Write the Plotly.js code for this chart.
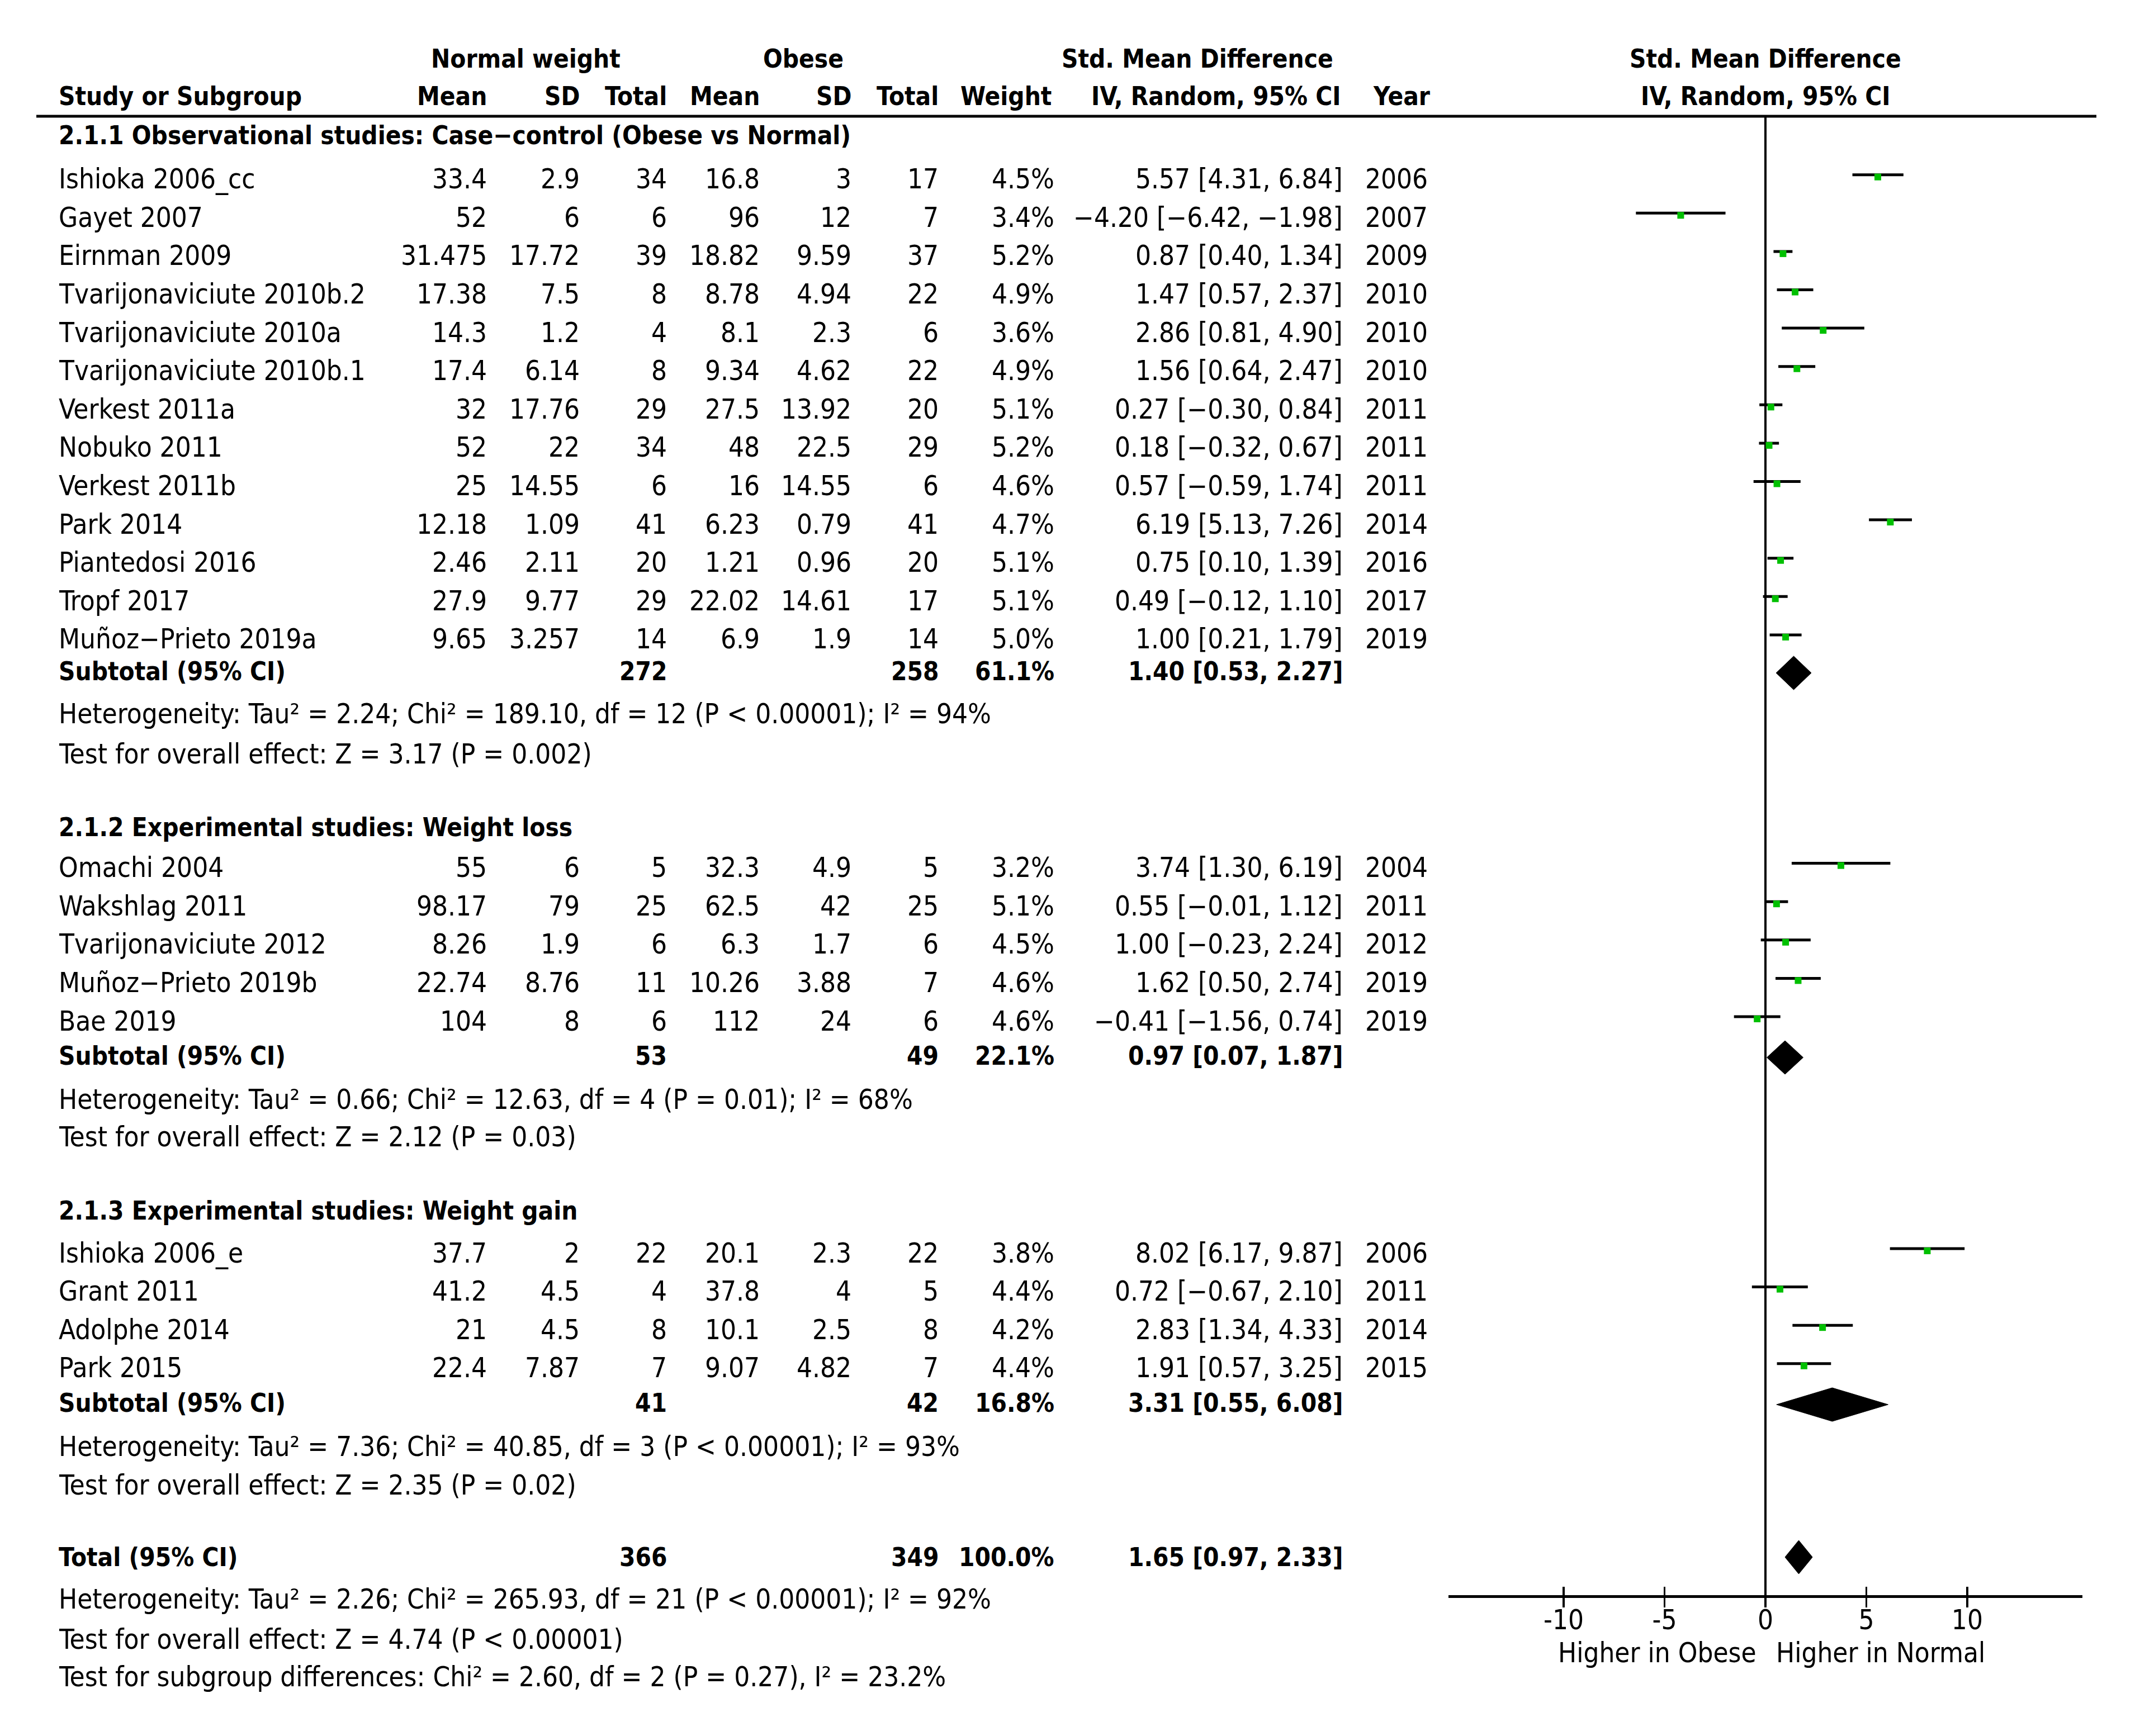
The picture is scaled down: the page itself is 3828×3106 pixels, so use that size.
<!DOCTYPE html>
<html><head><meta charset="utf-8">
<script src="https://cdn.plot.ly/plotly-3.0.1.min.js"></script>
<style>html,body{margin:0;padding:0;background:#fff}</style>
</head><body><div id="chart" style="width:3828px;height:3106px"></div>
<script>
// ---------------- DATA ----------------
const groupTitles = [
  "2.1.1 Observational studies: Case−control (Obese vs Normal)",
  "2.1.2 Experimental studies: Weight loss",
  "2.1.3 Experimental studies: Weight gain"
];
const studyGroup = [0,0,0,0,0,0,0,0,0,0,0,0,0, 1,1,1,1,1, 2,2,2,2];
const studyNames = ["Ishioka 2006_cc","Gayet 2007","Eirnman 2009","Tvarijonaviciute 2010b.2","Tvarijonaviciute 2010a","Tvarijonaviciute 2010b.1","Verkest 2011a","Nobuko 2011","Verkest 2011b","Park 2014","Piantedosi 2016","Tropf 2017","Muñoz−Prieto 2019a",
  "Omachi 2004","Wakshlag 2011","Tvarijonaviciute 2012","Muñoz−Prieto 2019b","Bae 2019",
  "Ishioka 2006_e","Grant 2011","Adolphe 2014","Park 2015"];
const normalMean = ["33.4","52","31.475","17.38","14.3","17.4","32","52","25","12.18","2.46","27.9","9.65","55","98.17","8.26","22.74","104","37.7","41.2","21","22.4"];
const normalSD = ["2.9","6","17.72","7.5","1.2","6.14","17.76","22","14.55","1.09","2.11","9.77","3.257","6","79","1.9","8.76","8","2","4.5","4.5","7.87"];
const normalTotal = [34,6,39,8,4,8,29,34,6,41,20,29,14,5,25,6,11,6,22,4,8,7];
const obeseMean = ["16.8","96","18.82","8.78","8.1","9.34","27.5","48","16","6.23","1.21","22.02","6.9","32.3","62.5","6.3","10.26","112","20.1","37.8","10.1","9.07"];
const obeseSD = ["3","12","9.59","4.94","2.3","4.62","13.92","22.5","14.55","0.79","0.96","14.61","1.9","4.9","42","1.7","3.88","24","2.3","4","2.5","4.82"];
const obeseTotal = [17,7,37,22,6,22,20,29,6,41,20,17,14,5,25,6,7,6,22,5,8,7];
const weights = ["4.5%","3.4%","5.2%","4.9%","3.6%","4.9%","5.1%","5.2%","4.6%","4.7%","5.1%","5.1%","5.0%","3.2%","5.1%","4.5%","4.6%","4.6%","3.8%","4.4%","4.2%","4.4%"];
const smd   = [5.57,-4.20,0.87,1.47,2.86,1.56,0.27,0.18,0.57,6.19,0.75,0.49,1.00, 3.74,0.55,1.00,1.62,-0.41, 8.02,0.72,2.83,1.91];
const ciLow = [4.31,-6.42,0.40,0.57,0.81,0.64,-0.30,-0.32,-0.59,5.13,0.10,-0.12,0.21, 1.30,-0.01,-0.23,0.50,-1.56, 6.17,-0.67,1.34,0.57];
const ciHigh= [6.84,-1.98,1.34,2.37,4.90,2.47,0.84,0.67,1.74,7.26,1.39,1.10,1.79, 6.19,1.12,2.24,2.74,0.74, 9.87,2.10,4.33,3.25];
const years = [2006,2007,2009,2010,2010,2010,2011,2011,2011,2014,2016,2017,2019, 2004,2011,2012,2019,2019, 2006,2011,2014,2015];

const subNormalTotal = [272,53,41];
const subObeseTotal = [258,49,42];
const subWeight = ["61.1%","22.1%","16.8%"];
const subEst = [1.40,0.97,3.31];
const subLow = [0.53,0.07,0.55];
const subHigh = [2.27,1.87,6.08];
const subHet = [
  "Heterogeneity: Tau² = 2.24; Chi² = 189.10, df = 12 (P < 0.00001); I² = 94%",
  "Heterogeneity: Tau² = 0.66; Chi² = 12.63, df = 4 (P = 0.01); I² = 68%",
  "Heterogeneity: Tau² = 7.36; Chi² = 40.85, df = 3 (P < 0.00001); I² = 93%"
];
const subTest = ["Test for overall effect: Z = 3.17 (P = 0.002)","Test for overall effect: Z = 2.12 (P = 0.03)","Test for overall effect: Z = 2.35 (P = 0.02)"];

const totNormal = 366, totObese = 349, totWeight = "100.0%";
const totEst = 1.65, totLow = 0.97, totHigh = 2.33;
const totHet = "Heterogeneity: Tau² = 2.26; Chi² = 265.93, df = 21 (P < 0.00001); I² = 92%";
const totTest = "Test for overall effect: Z = 4.74 (P < 0.00001)";
const subDiffTest = "Test for subgroup differences: Chi² = 2.60, df = 2 (P = 0.27), I² = 23.2%";

const tickVals = [-10,-5,0,5,10];
const tickText = ["-10","-5","0","5","10"];
const favLeft = "Higher in Obese", favRight = "Higher in Normal";

// ---------------- LAYOUT (pixel positions) ----------------
const W = 3828, H = 3106;
const FONT = "DejaVu Sans Condensed, Liberation Sans Narrow, Roboto, sans-serif";
const FS = 49, FSB = 45.5;
const colX = {label:104, nMean:872, nSD:1038, nTot:1194, oMean:1360, oSD:1524, oTot:1680, wt:1887, ci:2403, year:2498};
const groupHeadY = [242, 1480, 2166];
const groupFirstY = [320.7, 1552.6, 2242];
const rowStep = 68.6;
const subY = [1201, 1889, 2510];
const hetY = [1277, 1967, 2588];
const testY = [1349, 2034, 2657];
const totalY = 2786, totHetY = 2861, totTestY = 2933, subDiffY = 3000;
const header1Y = 105, header2Y = 172, ruleY = 208, axisY = 2856;
const xAxisPx = [2591, 3725];
const xRange = [-15.71, 15.71];

const ann = [];
function txt(x, y, s, anchor, bold) {
  ann.push({x: x / W, xref: 'paper', y: y, yref: 'y', text: s, showarrow: false,
    xanchor: anchor, yanchor: 'middle', borderpad: 0,
    font: {family: FONT, size: bold ? FSB : FS, color: '#000', weight: bold ? 'bold' : 'normal'}});
}
const fmt = v => (v < 0 ? "−" : "") + Math.abs(v).toFixed(2);
const ciStr = (e, l, h) => `${fmt(e)} [${fmt(l)}, ${fmt(h)}]`;

// headers
txt(940, header1Y, "Normal weight", 'center', true);
txt(1437, header1Y, "Obese", 'center', true);
txt(2142, header1Y, "Std. Mean Difference", 'center', true);
txt(3158, header1Y, "Std. Mean Difference", 'center', true);
txt(colX.label, header2Y, "Study or Subgroup", 'left', true);
txt(colX.nMean, header2Y, "Mean", 'right', true);
txt(colX.nSD, header2Y, "SD", 'right', true);
txt(colX.nTot, header2Y, "Total", 'right', true);
txt(colX.oMean, header2Y, "Mean", 'right', true);
txt(colX.oSD, header2Y, "SD", 'right', true);
txt(colX.oTot, header2Y, "Total", 'right', true);
txt(1882, header2Y, "Weight", 'right', true);
txt(2399, header2Y, "IV, Random, 95% CI", 'right', true);
txt(2507, header2Y, "Year", 'center', true);
txt(3158, header2Y, "IV, Random, 95% CI", 'center', true);

// rows
const rowY = [];
const counters = [0,0,0];
studyNames.forEach((n, i) => {
  const g = studyGroup[i];
  rowY.push(groupFirstY[g] + rowStep * counters[g]);
  counters[g]++;
});
groupTitles.forEach((t, g) => txt(colX.label, groupHeadY[g], t, 'left', true));
studyNames.forEach((n, i) => {
  const y = rowY[i];
  txt(colX.label, y, n, 'left');
  txt(colX.nMean, y, normalMean[i], 'right');
  txt(colX.nSD, y, normalSD[i], 'right');
  txt(colX.nTot, y, String(normalTotal[i]), 'right');
  txt(colX.oMean, y, obeseMean[i], 'right');
  txt(colX.oSD, y, obeseSD[i], 'right');
  txt(colX.oTot, y, String(obeseTotal[i]), 'right');
  txt(colX.wt, y, weights[i], 'right');
  txt(colX.ci, y, ciStr(smd[i], ciLow[i], ciHigh[i]), 'right');
  txt(colX.year, y, String(years[i]), 'center');
});
for (let g = 0; g < 3; g++) {
  txt(colX.label, subY[g], "Subtotal (95% CI)", 'left', true);
  txt(colX.nTot, subY[g], String(subNormalTotal[g]), 'right', true);
  txt(colX.oTot, subY[g], String(subObeseTotal[g]), 'right', true);
  txt(colX.wt, subY[g], subWeight[g], 'right', true);
  txt(colX.ci, subY[g], ciStr(subEst[g], subLow[g], subHigh[g]), 'right', true);
  txt(colX.label, hetY[g], subHet[g], 'left');
  txt(colX.label, testY[g], subTest[g], 'left');
}
txt(colX.label, totalY, "Total (95% CI)", 'left', true);
txt(colX.nTot, totalY, String(totNormal), 'right', true);
txt(colX.oTot, totalY, String(totObese), 'right', true);
txt(colX.wt, totalY, totWeight, 'right', true);
txt(colX.ci, totalY, ciStr(totEst, totLow, totHigh), 'right', true);
txt(colX.label, totHetY, totHet, 'left');
txt(colX.label, totTestY, totTest, 'left');
txt(colX.label, subDiffY, subDiffTest, 'left');
txt(2964, 2957, favLeft, 'center');
txt(3364, 2957, favRight, 'center');

// ---------------- TRACES ----------------
const traces = [];
// header rule on a full-width hidden axis
traces.push({x: [65, 3750], y: [ruleY, ruleY], xaxis: 'x3', yaxis: 'y', mode: 'lines', line: {color: '#000', width: 5}, hoverinfo: 'skip'});
// zero line
traces.push({x: [0, 0], y: [ruleY, axisY], mode: 'lines', line: {color: '#000', width: 4}, hoverinfo: 'skip'});
// CI lines
const cx = [], cy = [];
studyNames.forEach((n, i) => { cx.push(ciLow[i], ciHigh[i], null); cy.push(rowY[i] - 8, rowY[i] - 8, null); });
traces.push({x: cx, y: cy, mode: 'lines', line: {color: '#000', width: 5}, hoverinfo: 'skip'});
// squares
traces.push({x: smd, y: rowY.map(v => v - 4), mode: 'markers', marker: {symbol: 'square', size: 12, color: '#00C000', line: {width: 0}}});
// diamonds
function diamond(e, l, h, y) {
  traces.push({x: [l, e, h, e, l], y: [y, y - 30, y, y + 30, y], mode: 'lines', fill: 'toself',
    fillcolor: '#000', line: {color: '#000', width: 1}, hoverinfo: 'skip'});
}
for (let g = 0; g < 3; g++) diamond(subEst[g], subLow[g], subHigh[g], subY[g] + 3);
diamond(totEst, totLow, totHigh, totalY);
// dummy trace so xaxis2 (inner tick halves) is drawn
traces.push({x: [0], y: [-100], xaxis: 'x2', mode: 'markers', marker: {size: 1, opacity: 0}, hoverinfo: 'skip'});

const layout = {
  width: W, height: H, margin: {l: 0, r: 0, t: 0, b: 0},
  paper_bgcolor: '#fff', plot_bgcolor: 'rgba(0,0,0,0)', showlegend: false,
  annotations: ann,
  yaxis: {range: [H, 0], domain: [0, 1], visible: false, fixedrange: true},
  xaxis: {domain: [xAxisPx[0] / W, xAxisPx[1] / W], range: xRange, anchor: 'free', position: 1 - axisY / H,
    showline: true, linewidth: 5, linecolor: '#000', showgrid: false, zeroline: false,
    ticks: 'outside', ticklen: 17, tickwidth: 3.5, tickcolor: '#000', ticklabelstandoff: -20,
    tickvals: tickVals, ticktext: tickText, tickfont: {family: FONT, size: FS, color: '#000'}},
  xaxis2: {domain: [xAxisPx[0] / W, xAxisPx[1] / W], range: xRange, anchor: 'free', position: 1 - axisY / H,
    overlaying: 'x', showline: false, showgrid: false, zeroline: false,
    ticks: 'inside', ticklen: 17, tickwidth: 3.5, tickcolor: '#000', tickvals: tickVals, showticklabels: false},
  xaxis3: {domain: [0, 1], range: [0, W], visible: false, anchor: 'y'}
};
Plotly.newPlot('chart', traces, layout, {staticPlot: true});
</script></body></html>
